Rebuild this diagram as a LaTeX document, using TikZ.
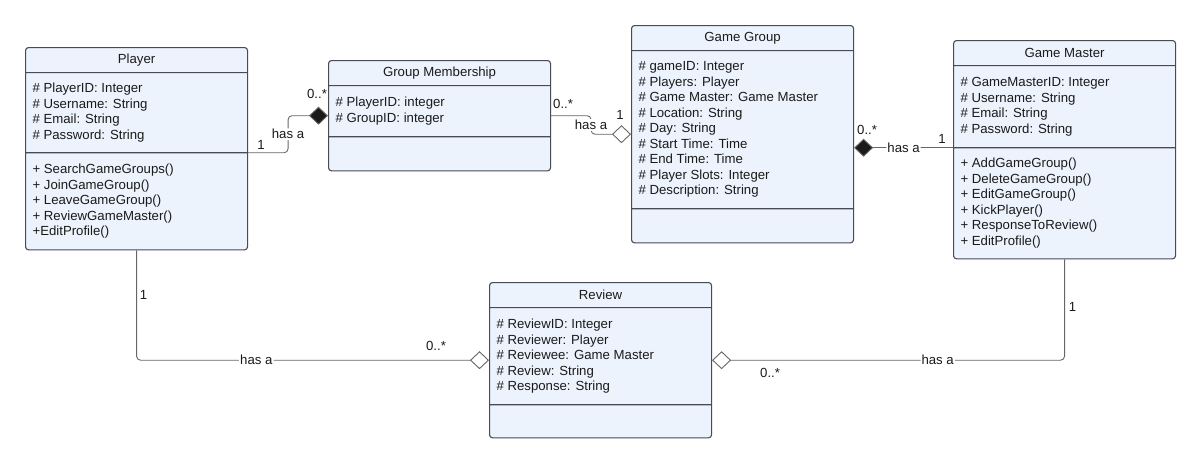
\documentclass[tikz,border=0pt]{standalone}
\usepackage{fontspec}
\setmainfont{Liberation Sans}
\usetikzlibrary{arrows.meta,shapes.multipart,calc}

\definecolor{boxfill}{HTML}{EDF3FD}
\definecolor{boxline}{HTML}{474B55}
\definecolor{wire}{HTML}{666666}
\definecolor{ink}{HTML}{1A1A1A}

\newcommand{\umltitle}[1]{\parbox[c][24pt][c]{208pt}{\centering #1}}
\newcommand{\umlpart}[2]{\parbox[c][#1][c]{208pt}{#2}}

\tikzset{
  umlclass/.style={rectangle split, rectangle split parts=3, draw=boxline, fill=boxfill,
    line width=1.1pt, rounded corners=3pt, inner xsep=7pt, inner ysep=0pt,
    anchor=north west, text=ink, font=\fontsize{13.2}{15.5}\selectfont},
  assoc/.style={draw=wire, line width=0.9pt, rounded corners=4pt},
  hasa/.style={fill=white, inner sep=1pt, text=ink, font=\fontsize{13.2}{15.5}\selectfont},
  mult/.style={inner sep=0pt, text=ink, font=\fontsize{13.2}{15.5}\selectfont},
  filled/.style={-{Diamond[length=19pt,width=18pt,fill=ink]}},
  hollow/.style={-{Diamond[length=19pt,width=18pt,fill=white]}},
}

\begin{document}
\begin{tikzpicture}[x=1pt, y=-1pt]
    \useasboundingbox (0,0) rectangle (1200,463);

    % Draw classes
    \node[umlclass] (player) at (25,47) {\umltitle{Player}
      \nodepart{two}\umlpart{79pt}{\# PlayerID: Integer\\ \# Username: String\\ \# Email: String\\ \# Password: String}
      \nodepart{three}\umlpart{96pt}{+ SearchGameGroups()\\ + JoinGameGroup()\\ + LeaveGameGroup()\\ + ReviewGameMaster()\\ +EditProfile()}};

    \node[umlclass] (membership) at (328,60) {\umltitle{Group Membership}
      \nodepart{two}\umlpart{50pt}{\# PlayerID: integer\\ \# GroupID: integer}
      \nodepart{three}\umlpart{33pt}{}};

    \node[umlclass] (group) at (631,25) {\umltitle{Game Group}
      \nodepart{two}\umlpart{157pt}{\# gameID: Integer\\ \# Players: Player\\ \# Game Master: Game Master\\ \# Location: String\\ \# Day: String\\ \# Start Time: Time\\ \# End Time: Time\\ \# Player Slots: Integer\\ \# Description: String}
      \nodepart{three}\umlpart{33pt}{}};

    \node[umlclass] (master) at (953,40) {\umltitle{Game Master}
      \nodepart{two}\umlpart{81pt}{\# GameMasterID: Integer\\ \# Username: String\\ \# Email: String\\ \# Password: String}
      \nodepart{three}\umlpart{110pt}{+ AddGameGroup()\\ + DeleteGameGroup()\\ + EditGameGroup()\\ + KickPlayer()\\ + ResponseToReview()\\ + EditProfile()}};

    \node[umlclass] (review) at (489,282) {\umltitle{Review}
      \nodepart{two}\umlpart{96pt}{\# ReviewID: Integer\\ \# Reviewer: Player\\ \# Reviewee: Game Master\\ \# Review: String\\ \# Response: String}
      \nodepart{three}\umlpart{32pt}{}};

    % Player -- Group Membership
    \coordinate (pm) at ($(player.two split east)!0.5!(membership.west)$);
    \draw[assoc, filled] (player.two split east) -| (pm) node[hasa] (pmlabel) {has a} |- (membership.west);
    \node[mult] (pm1) at ([shift={(13,-8)}]player.two split east) {1};
    \node[mult] (pmn) at ([shift={(-11,-21.5)}]membership.west) {0..*};

    % Group Membership -- Game Group
    \coordinate (mg) at ($(membership.east)!0.5!(group.west)$);
    \draw[assoc, hollow] (membership.east) -| (mg) node[hasa] (mglabel) {has a} |- (group.west);
    \node[mult] (mgn) at ([shift={(12,-11.5)}]membership.east) {0..*};
    \node[mult] (mg1) at ([shift={(-11,-19.5)}]group.west) {1};

    % Game Master -- Game Group
    \draw[assoc, filled] (master.two split west) -- node[hasa] (gmlabel) {has a} (group.east |- master.two split west);
    \node[mult] (gmn) at ([shift={(13,-18)}]group.east |- master.two split west) {0..*};
    \node[mult] (gm1) at ([shift={(-11,-9)}]master.two split west) {1};

    % Player -- Review
    \draw[assoc, hollow] (player.south) |- node[hasa, pos=0.67] (prlabel) {has a} (review.west);
    \node[mult] (pr1) at ([shift={(7,45)}]player.south) {1};
    \node[mult] (prn) at ([shift={(-53,-14.5)}]review.west) {0..*};

    % Game Master -- Review
    \draw[assoc, hollow] (master.south) |- node[hasa, pos=0.68] (mrlabel) {has a} (review.east);
    \node[mult] (mr1) at ([shift={(8,48)}]master.south) {1};
    \node[mult] (mrn) at ([shift={(58,12.5)}]review.east) {0..*};
\end{tikzpicture}
\end{document}
